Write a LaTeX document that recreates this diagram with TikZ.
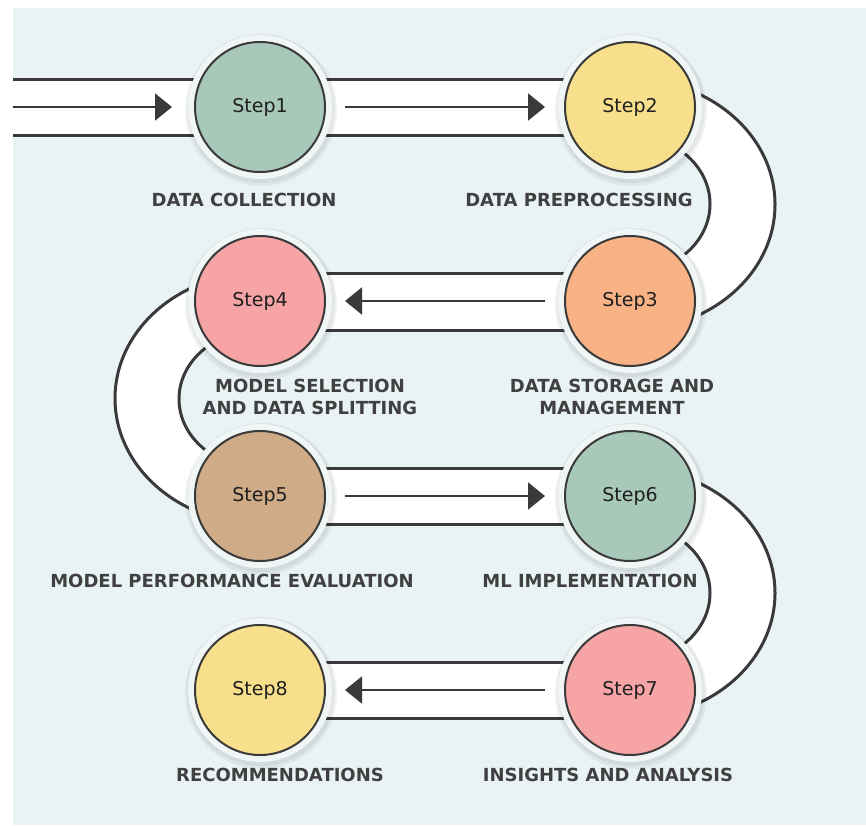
\documentclass[tikz,border=0pt]{standalone}
\usepackage{fontspec}
\setmainfont{DejaVu Sans}
\usetikzlibrary{arrows.meta}
\definecolor{bg}{HTML}{E9F3F5}
\definecolor{ink}{HTML}{3A3A3A}
\definecolor{labelc}{HTML}{404040}
\definecolor{halo}{HTML}{F0F5F6}
\definecolor{sage}{HTML}{A8C9BA}
\definecolor{sun}{HTML}{F7DF8B}
\definecolor{peach}{HTML}{F8B286}
\definecolor{rose}{HTML}{F6A4A5}
\definecolor{tan}{HTML}{CFAB88}
\tikzset{
  bandline/.style={draw=ink, line width=3pt},
  stepnode/.style={circle, minimum size=130pt, inner sep=0pt, draw=ink, line width=2pt,
    font=\fontsize{19}{22}\selectfont, text=black!88},
  lbl/.style={font=\fontsize{18}{22}\selectfont\bfseries, text=labelc, align=center, inner sep=0pt},
  arr/.style={draw=ink, line width=2pt, -{Triangle[length=17pt,width=27pt]}},
}
\newcommand{\halocircle}[2]{%
  \fill[black, opacity=0.05] (#1+1,#2+3) circle (76);
  \fill[black, opacity=0.05] (#1+1,#2+2) circle (74);
  \fill[halo] (#1,#2) circle (72);
}
\begin{document}
\begin{tikzpicture}[x=1pt,y=-1pt]
\useasboundingbox (0,0) rectangle (866,825);
\fill[white] (0,0) rectangle (866,825);
\fill[bg] (13,8) rectangle (866,825);

% ---- bands ----
% row 1
\fill[white] (13,79) rectangle (630,135);
\draw[bandline] (13,79) -- (630,79);
\draw[bandline] (13,135) -- (630,135);
% row 2
\fill[white] (260,273) rectangle (630,330);
\draw[bandline] (260,273) -- (630,273);
\draw[bandline] (260,330) -- (630,330);
% row 3
\fill[white] (260,468) rectangle (630,524);
\draw[bandline] (260,468) -- (630,468);
\draw[bandline] (260,524) -- (630,524);
% row 4
\fill[white] (260,662) rectangle (630,718);
\draw[bandline] (260,662) -- (630,662);
\draw[bandline] (260,718) -- (630,718);

% right U 1-2
\fill[white] (630,79) arc[start angle=-90, end angle=90, x radius=145, y radius=125.5]
  -- (630,273) arc[start angle=90, end angle=-90, x radius=80, y radius=69] -- cycle;
\draw[bandline] (630,79) arc[start angle=-90, end angle=90, x radius=145, y radius=125.5];
\draw[bandline] (630,273) arc[start angle=90, end angle=-90, x radius=80, y radius=69];
% left U 2-3
\fill[white] (260,273) arc[start angle=-90, end angle=-270, x radius=145, y radius=125.5]
  -- (260,468) arc[start angle=90, end angle=270, x radius=81, y radius=69] -- cycle;
\draw[bandline] (260,273) arc[start angle=-90, end angle=-270, x radius=145, y radius=125.5];
\draw[bandline] (260,468) arc[start angle=90, end angle=270, x radius=81, y radius=69];
% right U 3-4
\fill[white] (630,468) arc[start angle=-90, end angle=90, x radius=145, y radius=125]
  -- (630,662) arc[start angle=90, end angle=-90, x radius=80, y radius=69] -- cycle;
\draw[bandline] (630,468) arc[start angle=-90, end angle=90, x radius=145, y radius=125];
\draw[bandline] (630,662) arc[start angle=90, end angle=-90, x radius=80, y radius=69];

% ---- halos ----
\halocircle{260}{107}
\halocircle{630}{107}
\halocircle{630}{301}
\halocircle{260}{301}
\halocircle{260}{496}
\halocircle{630}{496}
\halocircle{630}{690}
\halocircle{260}{690}

% ---- steps ----
\node[stepnode, fill=sage]  (s1) at (260,107) {Step1};
\node[stepnode, fill=sun]   (s2) at (630,107) {Step2};
\node[stepnode, fill=peach] (s3) at (630,301) {Step3};
\node[stepnode, fill=rose]  (s4) at (260,301) {Step4};
\node[stepnode, fill=tan]   (s5) at (260,496) {Step5};
\node[stepnode, fill=sage]  (s6) at (630,496) {Step6};
\node[stepnode, fill=rose]  (s7) at (630,690) {Step7};
\node[stepnode, fill=sun]   (s8) at (260,690) {Step8};

% ---- labels ----
\node[lbl] (l1) at (244,200) {DATA COLLECTION};
\node[lbl] (l2) at (579,200) {DATA PREPROCESSING};
\node[lbl] (l3) at (612,397) {DATA STORAGE AND\\MANAGEMENT};
\node[lbl] (l4) at (310,397) {MODEL SELECTION\\AND DATA SPLITTING};
\node[lbl] (l5) at (232,581) {MODEL PERFORMANCE EVALUATION};
\node[lbl] (l6) at (590,581) {ML IMPLEMENTATION};
\node[lbl] (l7) at (608,775) {INSIGHTS AND ANALYSIS};
\node[lbl] (l8) at (280,775) {RECOMMENDATIONS};

% ---- arrows ----
\coordinate (a1s) at (13,107);  \coordinate (a1e) at (172,107);
\coordinate (a2s) at (345,107); \coordinate (a2e) at (545,107);
\coordinate (a3s) at (545,301); \coordinate (a3e) at (345,301);
\coordinate (a4s) at (345,496); \coordinate (a4e) at (545,496);
\coordinate (a5s) at (545,690); \coordinate (a5e) at (345,690);
\draw[arr] (a1s) -- (a1e);
\draw[arr] (a2s) -- (a2e);
\draw[arr] (a3s) -- (a3e);
\draw[arr] (a4s) -- (a4e);
\draw[arr] (a5s) -- (a5e);
\end{tikzpicture}
\end{document}
